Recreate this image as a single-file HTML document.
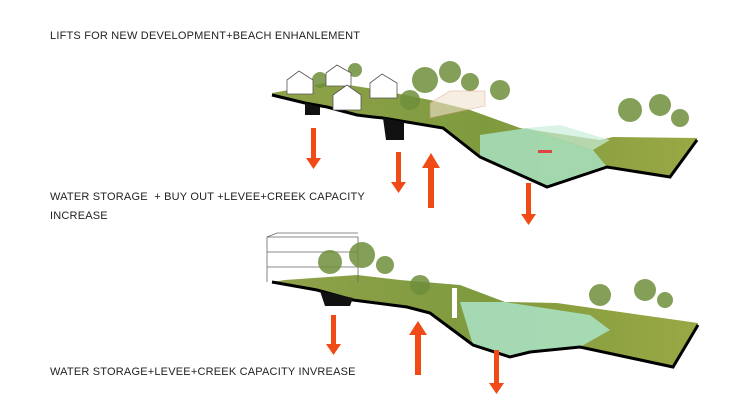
<!DOCTYPE html>
<html><head><style>
body{margin:0;width:750px;height:420px;background:#fff;overflow:hidden;font-family:"Liberation Sans",sans-serif}
.t{position:absolute;font-size:11px;color:#222;letter-spacing:0.2px}
</style></head><body>
<div class="t" style="left:50px;top:30px">LIFTS FOR NEW DEVELOPMENT+BEACH ENHANLEMENT</div>
<div class="t" style="left:50px;top:188px;line-height:19px">WATER STORAGE &nbsp;+ BUY OUT +LEVEE+CREEK CAPACITY<br>INCREASE</div>
<div class="t" style="left:50px;top:366px">WATER STORAGE+LEVEE+CREEK CAPACITY INVREASE</div>
<svg width="750" height="420" style="position:absolute;left:0;top:0">
<defs>
<linearGradient id="g" x1="0" x2="1"><stop offset="0" stop-color="#8fa24a"/><stop offset="0.5" stop-color="#7f9a3e"/><stop offset="1" stop-color="#9aa845"/></linearGradient>
</defs>
<!-- TOP -->
<polygon points="272,93 300,88 330,82 380,90 430,100 470,110 520,128 600,140 613,137 697,138 697,140 670,177 607,167 547,187 480,157 443,128 383,118 357,115 327,107 305,103 272,95" fill="url(#g)"/>
<polygon points="480,135 527,128 593,150 607,167 547,187 480,157" fill="#a8e0c0" opacity="0.85"/>
<polygon points="527,128 593,150 610,140 560,125" fill="#c9eedc" opacity="0.7"/>
<polyline points="272,95 305,103 327,107 357,115 373,117 383,118 443,128 480,157 547,187 607,167 670,177 697,140" fill="none" stroke="#000" stroke-width="3"/>
<path d="M305,103 l0,12 l15,0 l0,-8z" fill="#111"/>
<path d="M383,118 l3,22 l18,0 l0,-18z" fill="#111"/>
<g fill="#6f8f3a" opacity="0.85"><circle cx="320" cy="80" r="8"/><circle cx="355" cy="70" r="7"/><circle cx="425" cy="80" r="13"/><circle cx="450" cy="72" r="11"/><circle cx="470" cy="82" r="9"/><circle cx="630" cy="110" r="12"/><circle cx="660" cy="105" r="11"/><circle cx="680" cy="118" r="9"/><circle cx="410" cy="100" r="10"/><circle cx="500" cy="90" r="10"/></g>
<g fill="#fff" stroke="#555" stroke-width="0.8">
<path d="M287,94 l0,-14 l12,-9 l14,9 l0,14z"/><path d="M326,86 l0,-13 l11,-8 l14,8 l0,13z"/>
<path d="M333,110 l0,-15 l14,-10 l14,10 l0,15z"/><path d="M370,98 l0,-15 l12,-9 l15,9 l0,15z"/>
</g>
<path d="M430,118 l0,-15 l20,-12 l35,0 l0,15z" fill="#f3e3d0" opacity="0.6" stroke="#d98" stroke-width="0.7"/>
<rect x="538" y="150" width="14" height="3" fill="#d44"/>
<g fill="#f04a17">
<path d="M311,128h5v30h5l-7.5,11l-7.5,-11h5z"/>
<path d="M396,152h5v30h5l-7.5,11l-7.5,-11h5z"/>
<path d="M428,208h6v-40h6l-9,-15l-9,15h6z"/>
<path d="M526,183h5v31h5l-7.5,11l-7.5,-11h5z"/>
</g>
<!-- BOTTOM -->
<polygon points="272,282 285,280 357,275 400,280 460,285 505,302 557,303 698,323 698,325 673,367 580,347 530,352 510,357 473,345 430,313 407,307 353,300 317,290" fill="url(#g)"/>
<polygon points="460,302 505,302 590,315 610,330 580,347 530,352 510,357 473,345" fill="#a8e0c0" opacity="0.9"/>
<polyline points="272,282 317,290 353,300 407,307 430,313 473,345 510,357 530,352 580,347 673,367 698,325" fill="none" stroke="#000" stroke-width="3"/>
<path d="M320,291 l5,15 l25,0 l3,-8z" fill="#111"/>
<g fill="none" stroke="#666" stroke-width="0.8"><path d="M267,282v-45h91v45M267,237l10,-4h81M267,252h91M267,267h91"/></g>
<g fill="#6f8f3a" opacity="0.85"><circle cx="330" cy="262" r="12"/><circle cx="362" cy="255" r="13"/><circle cx="385" cy="265" r="9"/><circle cx="600" cy="295" r="11"/><circle cx="645" cy="290" r="11"/><circle cx="665" cy="300" r="8"/><circle cx="420" cy="285" r="10"/></g>
<rect x="452" y="288" width="5" height="30" fill="#fff"/>
<g fill="#f04a17">
<path d="M331,315h5v29h5l-7.5,11l-7.5,-11h5z"/>
<path d="M415,375h6v-40h6l-9,-14l-9,14h6z"/>
<path d="M494,350h5v33h5l-7.5,11l-7.5,-11h5z"/>
</g>
</svg>
</body></html>
